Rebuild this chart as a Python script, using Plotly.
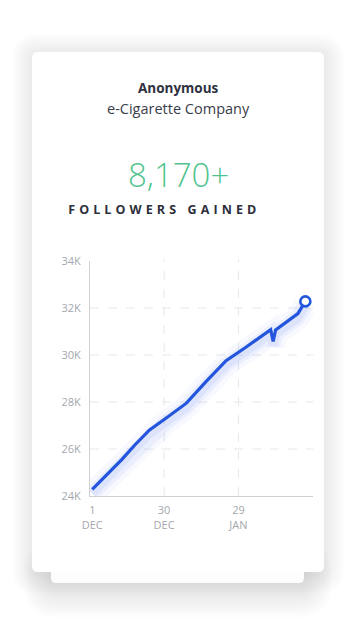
import plotly.graph_objects as go

# ---- data ----
dates = ["2019-12-01", "2019-12-07", "2019-12-12", "2019-12-13", "2019-12-18",
         "2019-12-24", "2019-12-31", "2020-01-08", "2020-01-16", "2020-01-24",
         "2020-02-01", "2020-02-11", "2020-02-12", "2020-02-13",
         "2020-02-22", "2020-02-25"]
followers = [24280, 24900, 25430, 25560, 26150,
             26800, 27330, 27950, 28880, 29760,
             30330, 31080, 30580, 31070,
             31760, 32280]
x_tick_vals = ["2019-12-01", "2019-12-30", "2020-01-29"]
x_tick_text = ["1<br>DEC", "30<br>DEC", "29<br>JAN"]
y_tick_vals = [24000, 26000, 28000, 30000, 32000, 34000]
y_tick_text = ["24K", "26K", "28K", "30K", "32K", "34K"]

W, H = 356, 632
FONT = "Open Sans"
BLUE = "#2157dc"
GRID = "#e6e7ec"


def px(x):
    return x / W


def py(y):
    return 1 - y / H


def rrect(x0, y0, x1, y1, r):
    rx, ry = r / W, r / H
    X0, X1 = px(x0), px(x1)
    Y0, Y1 = py(y0), py(y1)
    return (f"M {X0+rx},{Y0} L {X1-rx},{Y0} Q {X1},{Y0} {X1},{Y0-ry} "
            f"L {X1},{Y1+ry} Q {X1},{Y1} {X1-rx},{Y1} L {X0+rx},{Y1} "
            f"Q {X0},{Y1} {X0},{Y1+ry} L {X0},{Y0-ry} Q {X0},{Y0} {X0+rx},{Y0} Z")


shapes = []
for i in range(12, 0, -1):
    g = i * 2.3
    shapes.append(dict(type="path", xref="paper", yref="paper", layer="below",
                       path=rrect(51 - g, 560 - g + 7, 304 + g, 583 + g + 7, 6 + g),
                       fillcolor="rgba(60,60,80,0.010)", line=dict(width=0)))
for i in range(10, 0, -1):
    g = i * 2.0
    shapes.append(dict(type="path", xref="paper", yref="paper", layer="below",
                       path=rrect(32 - g, 52 - g + 2, 324 + g, 572 + g + 2, 6 + g),
                       fillcolor="rgba(60,60,80,0.010)", line=dict(width=0)))
shapes.append(dict(type="path", xref="paper", yref="paper", layer="below",
                   path=rrect(51, 540, 304, 583, 5),
                   fillcolor="#fdfdfd", line=dict(width=0)))
shapes.append(dict(type="path", xref="paper", yref="paper", layer="below",
                   path=rrect(32, 52, 324, 572, 6),
                   fillcolor="#ffffff", line=dict(width=0)))
# interior dashed gridlines (none on the axis lines / top edge)
for v in y_tick_vals[1:-1]:
    shapes.append(dict(type="line", xref="x domain", yref="y", x0=0, x1=1, y0=v, y1=v,
                       layer="below", line=dict(color=GRID, width=1, dash="dash")))
for d in x_tick_vals[1:]:
    shapes.append(dict(type="line", xref="x", yref="y domain", x0=d, x1=d, y0=0, y1=1.008,
                       layer="below", line=dict(color=GRID, width=1, dash="dash")))

fig = go.Figure()
for w, a in [(24, 0.04), (15, 0.06), (9, 0.08)]:
    fig.add_trace(go.Scatter(x=dates, y=followers, mode="lines", yaxis="y2",
                             line=dict(color=f"rgba(50,90,235,{a})", width=w),
                             hoverinfo="skip", showlegend=False))
fig.add_trace(go.Scatter(x=dates, y=followers, mode="lines",
                         line=dict(color=BLUE, width=3.2), showlegend=False))
fig.add_trace(go.Scatter(x=dates[-1:], y=followers[-1:], mode="markers",
                         marker=dict(size=10, color="white",
                                     line=dict(color=BLUE, width=2.6)),
                         showlegend=False, cliponaxis=False))

annotations = [
    dict(text="<b>Anonymous</b>", x=px(178), y=py(88), xref="paper", yref="paper",
         showarrow=False, font=dict(family=FONT, size=13.5, color="#2e3140"),
         xanchor="center", yanchor="middle"),
    dict(text="e-Cigarette Company", x=px(178), y=py(108), xref="paper", yref="paper",
         showarrow=False, font=dict(family=FONT, size=14.5, color="#3a3d4a"),
         xanchor="center", yanchor="middle"),
    dict(text="8,170+", x=px(178), y=py(175), xref="paper", yref="paper",
         showarrow=False, font=dict(family=FONT, size=33, color="#50c48e", weight=300),
         xanchor="center", yanchor="middle"),
    dict(text="<b>FOLLOWERS GAINED</b>", x=px(164.5), y=py(209), xref="paper", yref="paper",
         showarrow=False, font=dict(family=FONT, size=12.5, color="#2d2f3a"),
         xanchor="center", yanchor="middle"),
]

fig.update_layout(
    width=W, height=H, autosize=False,
    margin=dict(l=0, r=0, t=0, b=0, pad=0),
    paper_bgcolor="#ffffff", plot_bgcolor="rgba(0,0,0,0)",
    shapes=shapes, annotations=annotations,
    xaxis=dict(domain=[px(90), px(313.3)], type="date",
               range=["2019-11-30 02:00", "2020-02-28 05:00"],
               tickmode="array", tickvals=x_tick_vals, ticktext=x_tick_text,
               showgrid=False, automargin=False,
               showline=True, linecolor="#cfd0d6", linewidth=1,
               zeroline=False, ticks="", ticklabelstandoff=4,
               tickfont=dict(family=FONT, size=11, color="#a5a7ae")),
    yaxis=dict(domain=[py(496), py(261)], range=[24000, 34000],
               tickmode="array", tickvals=y_tick_vals, ticktext=y_tick_text,
               showgrid=False, automargin=False,
               showline=True, linecolor="#cfd0d6", linewidth=1,
               zeroline=False, ticks="", ticklabelstandoff=6,
               tickfont=dict(family=FONT, size=11, color="#a5a7ae")),
    yaxis2=dict(overlaying="y", range=[24170, 34170], visible=False),
    hovermode=False,
)

post = """
document.documentElement.style.margin='0';
document.body.style.margin='0';
document.body.style.overflow='hidden';
var t = document.querySelectorAll('.annotation-text');
t.forEach(function(el){ if (el.textContent === 'FOLLOWERS GAINED') { el.style.letterSpacing = '4.1px'; } });
"""

fig.write_html("out.html", post_script=post, config={"responsive": False})
